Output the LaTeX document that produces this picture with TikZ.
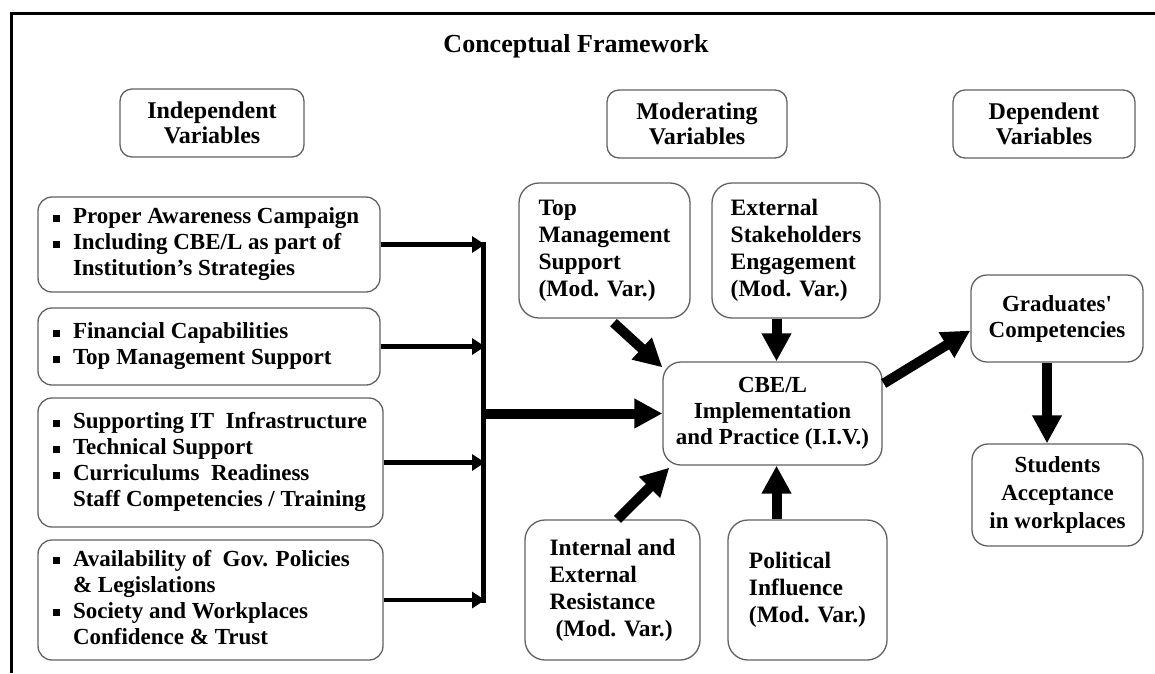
\documentclass[tikz,border=0pt]{standalone}
\usepackage{fontspec}
\setmainfont{Liberation Serif}[Ligatures=TeXOff]
\usetikzlibrary{arrows.meta,calc}
\newcommand{\bul}{\makebox[20pt][l]{\rule[2pt]{7pt}{7pt}}}
\newcommand{\indnt}{\hspace*{20pt}}
\newcommand{\lbox}[2]{\makebox[#1][l]{\begin{tabular}{@{}l@{}}#2\end{tabular}}}
\begin{document}
\begin{tikzpicture}[x=1pt,y=-1pt,
  box/.style={draw=black!62, line width=1.3pt, rounded corners=14pt, align=left, inner sep=0pt,
    font=\fontsize{23}{26}\selectfont\bfseries},
  ivbox/.style={box, inner xsep=15pt},
  cbox/.style={box, align=center, rounded corners=16pt},
  hbox/.style={box, align=center, rounded corners=12pt, font=\fontsize{24}{25}\selectfont\bfseries},
  mbox/.style={box, rounded corners=20pt, font=\fontsize{23.5}{27}\selectfont\bfseries},
  thinarr/.style={line width=4.5pt, -{Triangle[length=13pt,width=16pt]}},
  bigarr/.style={line width=10pt, -{Triangle[length=28pt,width=28pt]}},
  bus/.style={line width=5pt, line cap=rect}
]
\useasboundingbox (0,0) rectangle (1155,673);
\draw[line width=3pt] (1155,13) -- (11,13) -- (11,673);

\node[font=\fontsize{26}{30}\selectfont\bfseries, anchor=base] (title) at (576,52) {Conceptual Framework};

\node[hbox, minimum width=184pt, minimum height=68pt] (hind) at (212,123) {Independent\\Variables};
\node[hbox, minimum width=180pt, minimum height=68pt] (hmod) at (697,124) {Moderating\\Variables};
\node[hbox, minimum width=182pt, minimum height=68pt] (hdep) at (1044,124) {Dependent\\Variables};

\node[ivbox, minimum height=95pt] (iv1) at (209,244.5)
  {\lbox{312pt}{\bul Proper Awareness Campaign\\\bul Including CBE/L as part of\\\indnt Institution’s Strategies}};
\node[ivbox, minimum height=77pt] (iv2) at (209,346.5)
  {\lbox{312pt}{\bul Financial Capabilities\\\bul Top Management Support}};
\node[ivbox, minimum height=129pt] (iv3) at (210.5,462.5)
  {\lbox{315pt}{\bul Supporting IT\ \ Infrastructure\\\bul Technical Support\\\bul Curriculums\ \ Readiness\\\indnt Staff Competencies / Training}};
\node[ivbox, minimum height=120pt] (iv4) at (210.5,600)
  {\lbox{315pt}{\bul Availability of\ \ Gov. Policies\\\indnt\& Legislations\\\bul Society and Workplaces\\\indnt Confidence \& Trust}};

\node[mbox, minimum width=171pt, minimum height=135pt] (tm) at (604.5,250.5)
  {Top\\Management\\Support\\(Mod. Var.)};
\node[mbox, minimum width=168pt, minimum height=135pt] (ext) at (796,250.5)
  {External\\Stakeholders\\Engagement\\(Mod. Var.)};
\node[cbox, minimum width=219pt, minimum height=103pt, rounded corners=18pt] (cbe) at (772.5,413.5)
  {CBE/L\\Implementation\\and Practice (I.I.V.)};
\node[mbox, minimum width=175pt, minimum height=140pt] (int) at (612.5,590)
  {Internal and\\External\\Resistance\\\hspace*{6pt}(Mod. Var.)};
\node[mbox, minimum width=159pt, minimum height=140pt] (pol) at (807.5,590)
  {Political\\Influence\\(Mod. Var.)};
\node[cbox, minimum width=172pt, minimum height=87pt] (grad) at (1057,318.5)
  {Graduates'\\Competencies};
\node[cbox, minimum width=171pt, minimum height=102pt, font=\fontsize{23}{28}\selectfont\bfseries] (stu) at (1057.5,495)
  {Students\\Acceptance\\in workplaces};

\coordinate (bx) at (483,0);
\draw[bus] (iv1.east -| bx) -- (iv4.east -| bx);
\draw[thinarr] (iv1.east) -- ([xshift=2pt]iv1.east -| bx);
\draw[thinarr] (iv2.east) -- ([xshift=2pt]iv2.east -| bx);
\draw[thinarr] (iv3.east) -- ([xshift=2pt]iv3.east -| bx);
\draw[thinarr] (iv4.east) -- ([xshift=2pt]iv4.east -| bx);
\draw[bigarr] (cbe.west -| bx) -- (cbe.west);

\draw[bigarr] ($(tm.south)+(9,4)$) -- ($(cbe.north west)+(0,6)$);
\coordinate (ca) at ($(cbe.north)+(4,0)$);
\draw[bigarr] (ca |- ext.south) -- (ca);
\draw[bigarr] ($(int.north)+(5,0)$) -- ($(cbe.south west)+(7,2)$);
\coordinate (cb) at ($(cbe.south)+(4,0)$);
\draw[bigarr] (cb |- pol.north) -- (cb);
\draw[bigarr] ($(cbe.east)+(1,-30)$) -- ($(grad.west)+(0,12)$);
\coordinate (gx) at ($(grad.south)+(-10,0)$);
\draw[bigarr] (gx) -- (gx |- stu.north);
\end{tikzpicture}
\end{document}
